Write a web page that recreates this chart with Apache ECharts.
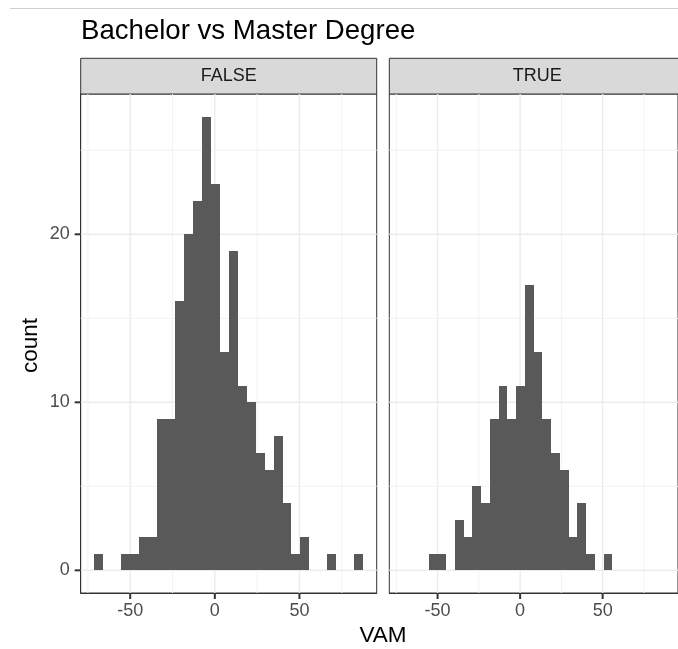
<!DOCTYPE html>
<html><head><meta charset="utf-8">
<script src="https://cdn.jsdelivr.net/npm/echarts@6/dist/echarts.min.js"></script>
<style>html,body{margin:0;padding:0;background:#fff;} #c{width:678px;height:649px;}</style>
</head><body><div id="c"></div>
<script>
// ---- data ----
const titleText = 'Bachelor vs Master Degree';
const panels = ['FALSE', 'TRUE'];
const xName = 'VAM';
const yName = 'count';
const binStart = -71.3;   // left edge of first bin
const binWidth = 5.3;     // 30 bins
const falseCounts = [1, 0, 0, 1, 1, 2, 2, 9, 9, 16, 20, 22, 27, 23, 13, 19, 11, 10, 7, 6, 8, 4, 1, 2, 0, 0, 1, 0, 0, 1];
const trueCounts  = [0, 0, 0, 1, 1, 0, 3, 2, 5, 4, 9, 11, 9, 11, 17, 13, 9, 7, 6, 2, 4, 1, 0, 1, 0, 0, 0, 0, 0, 0];
const xTickValues = [-50, 0, 50];
const xMinorValues = [-75, -25, 25, 75];
const yTickValues = [0, 10, 20];
const yMinorValues = [5, 15, 25];

// ---- layout / scales ----
const FONT = '"Liberation Sans", Arial, Helvetica, sans-serif';
const nBins = falseCounts.length;
const binLo = binStart, binHi = binStart + nBins * binWidth;
const xPad = 0.05 * (binHi - binLo);
const xMin = binLo - xPad, xMax = binHi + xPad;
const yMaxData = Math.max(...falseCounts, ...trueCounts);
const yMin = -0.05 * yMaxData, yMax = yMaxData * 1.05;

const PANEL_TOP = 94, PANEL_H = 499, PANEL_W = 296;
const PANEL_LEFT = [80.7, 389.3];
const STRIP_TOP = 58.3;
const TICK_LEN = 6, TICK_W = 2;
const countsByPanel = [falseCounts, trueCounts];

function barSeries(i) {
  return {
    type: 'custom', xAxisIndex: i, yAxisIndex: i, z: 3, silent: true, animation: false,
    data: countsByPanel[i].map((c, k) => [binStart + k * binWidth, binStart + (k + 1) * binWidth, c]),
    encode: { x: [0, 1], y: 2 },
    renderItem: (params, api) => {
      const c = api.value(2);
      if (!c) return null;
      const p0 = api.coord([api.value(0), 0]);
      const p1 = api.coord([api.value(1), c]);
      const xa = Math.round(p0[0]), xb = Math.round(p1[0]);
      const ya = Math.round(p1[1]), yb = Math.round(p0[1]);
      return { type: 'rect', shape: { x: xa, y: ya, width: xb - xa, height: yb - ya },
               style: { fill: '#595959' } };
    }
  };
}

function gridSeries(i) {
  const items = [];
  xMinorValues.forEach(v => items.push([0, v, 0]));
  xTickValues.forEach(v => items.push([0, v, 1]));
  yMinorValues.forEach(v => items.push([1, v, 0]));
  yTickValues.forEach(v => items.push([1, v, 1]));
  return {
    type: 'custom', xAxisIndex: i, yAxisIndex: i, z: 1, silent: true, animation: false,
    data: items,
    encode: { x: 1, y: 1 },
    renderItem: (params, api) => {
      const o = api.value(0), v = api.value(1), major = api.value(2);
      let a, b;
      if (o === 0) { a = api.coord([v, yMin]); b = api.coord([v, yMax]); }
      else { a = api.coord([xMin, v]); b = api.coord([xMax, v]); }
      return { type: 'line', shape: { x1: a[0], y1: a[1], x2: b[0], y2: b[1] },
               style: { stroke: major ? '#EBEBEB' : '#F2F2F2', lineWidth: major ? 1.4 : 1 } };
    }
  };
}

const grids = [0, 1].map(i => ({
  left: PANEL_LEFT[i], top: PANEL_TOP, width: PANEL_W, height: PANEL_H,
  show: true, backgroundColor: '#fff', borderColor: '#333333', borderWidth: 1, containLabel: false
}));

const xAxes = [0, 1].map(i => ({
  type: 'value', gridIndex: i, min: xMin, max: xMax,
  axisLine: { show: true, onZero: false, lineStyle: { color: '#333333', width: 1 } },
  splitLine: { show: false },
  axisTick: { show: false },
  axisLabel: { customValues: xTickValues, fontSize: 18, color: '#4D4D4D', fontFamily: FONT, margin: 9 }
}));

const yAxes = [0, 1].map(i => ({
  type: 'value', gridIndex: i, min: yMin, max: yMax,
  axisLine: { show: i === 0, onZero: false, lineStyle: { color: '#333333', width: 1 } },
  splitLine: { show: false },
  axisTick: { show: false },
  axisLabel: { show: i === 0, customValues: yTickValues, fontSize: 18, color: '#4D4D4D', fontFamily: FONT, margin: 11 }
}));

const graphics = [
  { type: 'line', silent: true, shape: { x1: 10, y1: 8.5, x2: 678, y2: 8.5 }, style: { stroke: '#CFCFCF', lineWidth: 1 } }
];
panels.forEach((p, i) => {
  graphics.push({ type: 'rect', silent: true,
    shape: { x: PANEL_LEFT[i], y: STRIP_TOP, width: PANEL_W, height: PANEL_TOP - STRIP_TOP },
    style: { fill: '#D9D9D9', stroke: '#333333', lineWidth: 1 } });
  graphics.push({ type: 'text', silent: true,
    x: PANEL_LEFT[i] + PANEL_W / 2, y: (STRIP_TOP + PANEL_TOP) / 2,
    style: { text: p, textAlign: 'center', textVerticalAlign: 'middle', align: 'center', verticalAlign: 'middle',
             fontSize: 18, fontFamily: FONT, fill: '#1A1A1A' } });
});
graphics.push({ type: 'text', silent: true,
  x: (PANEL_LEFT[0] + PANEL_LEFT[1] + PANEL_W) / 2, y: 635.4,
  style: { text: xName, textAlign: 'center', textVerticalAlign: 'middle', align: 'center', verticalAlign: 'middle',
           fontSize: 22.5, fontFamily: FONT, fill: '#000' } });
graphics.push({ type: 'text', silent: true,
  x: 31, y: PANEL_TOP + PANEL_H / 2 + 2, rotation: Math.PI / 2,
  style: { text: yName, textAlign: 'center', textVerticalAlign: 'middle', align: 'center', verticalAlign: 'middle',
           fontSize: 22.5, fontFamily: FONT, fill: '#000' } });

const chart = echarts.init(document.getElementById('c'), null, { renderer: 'canvas' });
chart.setOption({
  animation: false,
  backgroundColor: '#fff',
  title: { text: titleText, left: 81, top: 17, padding: 0,
           textStyle: { fontSize: 27.6, fontWeight: 'normal', color: '#000', fontFamily: FONT } },
  grid: grids,
  xAxis: xAxes,
  yAxis: yAxes,
  graphic: graphics,
  series: [gridSeries(0), gridSeries(1), barSeries(0), barSeries(1)]
});

// tick marks, positioned through the axes' own scales
const tickGraphics = [];
[0, 1].forEach(i => {
  xTickValues.forEach(v => {
    const p = chart.convertToPixel({ gridIndex: i }, [v, yMin]);
    tickGraphics.push({ type: 'rect', silent: true, z: 100,
      shape: { x: p[0] - TICK_W / 2, y: p[1], width: TICK_W, height: TICK_LEN },
      style: { fill: '#333333' } });
  });
});
yTickValues.forEach(v => {
  const p = chart.convertToPixel({ gridIndex: 0 }, [xMin, v]);
  tickGraphics.push({ type: 'rect', silent: true, z: 100,
    shape: { x: p[0] - TICK_LEN, y: p[1] - TICK_W / 2, width: TICK_LEN, height: TICK_W },
    style: { fill: '#333333' } });
});
chart.setOption({ graphic: graphics.concat(tickGraphics) });
</script>
</body></html>
